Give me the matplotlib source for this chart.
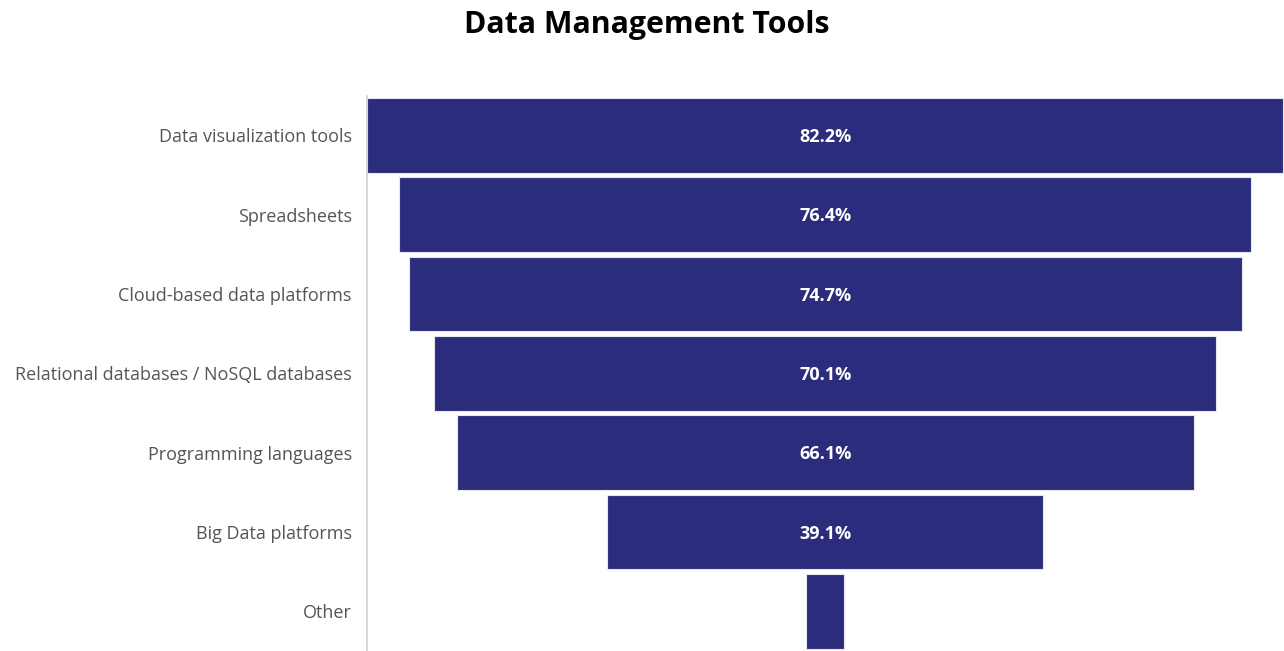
import matplotlib.pyplot as plt

# funnel data
categories = ["Data visualization tools", "Spreadsheets", "Cloud-based data platforms",
              "Relational databases / NoSQL databases", "Programming languages",
              "Big Data platforms", "Other"]
values = [82.2, 76.4, 74.7, 70.1, 66.1, 39.1, 3.4]

plt.rcParams['font.family'] = ['Open Sans', 'DejaVu Sans']

fig = plt.figure(figsize=(12.84, 6.51), dpi=100)
ax = fig.add_axes([0.2858, 0.0, 0.7142, 0.853])

pos = range(len(categories))
lefts = [-v / 2 for v in values]
ax.barh(pos, values, left=lefts, height=0.94, color="#2b2d7c",
        edgecolor="#e6e6f0", linewidth=0.8)

# value labels, only where the bar is wide enough
for i, v in enumerate(values):
    if v > 10:
        ax.text(0, i + 0.02, f"{v}%", ha="center", va="center", color="white",
                fontsize=13, fontweight="bold")

ax.set_yticks(list(pos))
ax.set_yticklabels(categories, fontsize=13, color="#555555")
ax.tick_params(axis="y", length=0, pad=11)
ax.set_xticks([])
ax.set_xlim(-41.1, 41.15)
ax.set_ylim(6.5, -0.5)
for s in ["top", "right", "bottom"]:
    ax.spines[s].set_visible(False)
ax.spines["left"].set_color("#d0d0d0")
ax.spines["left"].set_linewidth(1.2)

fig.text(0.504, 0.962, "Data Management Tools", ha="center", va="center",
         fontsize=21.8, fontweight="bold", color="black")

fig.savefig("out.png", dpi=100)
